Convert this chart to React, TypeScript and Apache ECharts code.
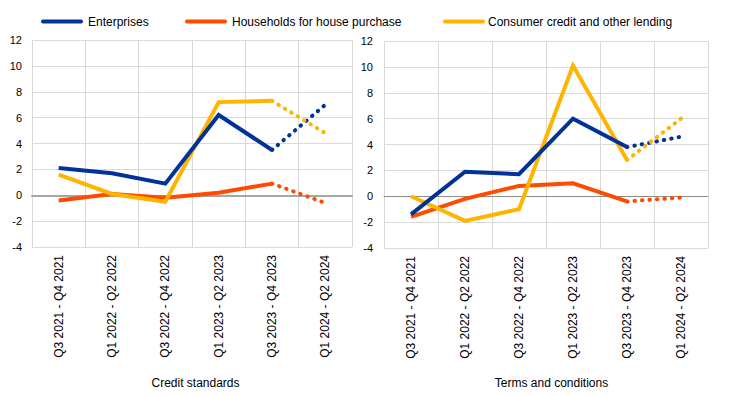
import React, { useEffect, useRef } from "react";
import * as echarts from "echarts";

const categories = [
  "Q3 2021 - Q4 2021",
  "Q1 2022 - Q2 2022",
  "Q3 2022 - Q4 2022",
  "Q1 2023 - Q2 2023",
  "Q3 2023 - Q4 2023",
  "Q1 2024 - Q2 2024",
];

const seriesNames = ["Enterprises", "Households for house purchase", "Consumer credit and other lending"];
const colors = ["#003299", "#FF4B00", "#FFB400"];

// Credit standards (last point = expected Q1 2024 - Q2 2024, drawn dotted)
const csEnterprises = [2.1, 1.7, 0.9, 6.2, 3.5, 7.0];
const csHouseholds = [-0.4, 0.1, -0.2, 0.2, 0.9, -0.6];
const csConsumer = [1.6, 0.1, -0.5, 7.2, 7.3, 4.8];

// Terms and conditions
const tcEnterprises = [-1.4, 1.9, 1.7, 6.0, 3.8, 4.6];
const tcHouseholds = [-1.6, -0.2, 0.8, 1.0, -0.4, -0.1];
const tcConsumer = [0.0, -1.9, -1.0, 10.1, 2.8, 6.0];

const panelTitles = ["Credit standards", "Terms and conditions"];
const yTicks = { min: -4, max: 12, interval: 2 };

const FONT = '"Liberation Sans", Arial, sans-serif';

function solid(vals: number[]) {
  return vals.map((v, i) => (i < vals.length - 1 ? v : null));
}
function dotted(vals: number[]) {
  return vals.map((v, i) => (i >= vals.length - 2 ? v : null));
}

export default function App() {
  const ref = useRef<HTMLDivElement>(null);
  useEffect(() => {
    if (!ref.current) return;
    const chart = echarts.init(ref.current, null, { renderer: "svg" });
    const panels = [
      [csEnterprises, csHouseholds, csConsumer],
      [tcEnterprises, tcHouseholds, tcConsumer],
    ];
    const series: any[] = [];
    panels.forEach((p, pi) => {
      p.forEach((vals, si) => {
        series.push({
          type: "line",
          name: seriesNames[si],
          xAxisIndex: pi,
          yAxisIndex: pi,
          data: solid(vals),
          symbol: "none",
          lineStyle: { color: colors[si], width: 4, cap: "butt", join: "miter" },
          itemStyle: { color: colors[si] },
          z: si === 0 ? 4 : 3,
        });
        series.push({
          type: "line",
          name: seriesNames[si],
          xAxisIndex: pi,
          yAxisIndex: pi,
          data: dotted(vals),
          symbol: "none",
          lineStyle: { color: colors[si], width: 4, type: [0.5, 7], cap: "round" },
          itemStyle: { color: colors[si] },
          z: 3,
        });
      });
    });
    const grids = [
      { left: 32, top: 40, width: 320, height: 207 },
      { left: 384, top: 41, width: 324, height: 207 },
    ];
    const xAxis = grids.map((_, i) => ({
      type: "category",
      gridIndex: i,
      data: categories,
      boundaryGap: true,
      axisLine: {
        show: true,
        onZero: true,
        lineStyle: { color: i === 0 ? "#a6a6a6" : "#8c8c8c", width: i === 0 ? 2 : 1 },
      },
      axisTick: { show: false },
      splitLine: { show: true, interval: 0, lineStyle: { color: "#d9d9d9", width: 1 } },
      axisLabel: {
        interval: 0,
        rotate: 90,
        margin: 8,
        color: "#000",
        fontFamily: FONT,
        fontSize: 12,
      },
    }));
    const yAxis = grids.map((_, i) => ({
      type: "value",
      gridIndex: i,
      min: yTicks.min,
      max: yTicks.max,
      interval: yTicks.interval,
      axisLine: { show: false },
      axisTick: { show: false },
      splitLine: { show: true, lineStyle: { color: "#d9d9d9", width: 1 } },
      axisLabel: {
        margin: i === 0 ? 10 : 11,
        color: "#000",
        fontFamily: FONT,
        fontSize: 11,
      },
    }));

    const legendIconX = [41, 185, 443];
    const legendTextX = [88, 232, 488];
    const graphic: any[] = [];
    seriesNames.forEach((n, i) => {
      graphic.push({
        type: "line",
        shape: { x1: legendIconX[i] + 2, y1: 21.5, x2: legendIconX[i] + 40, y2: 21.5 },
        style: { stroke: colors[i], lineWidth: 4, lineCap: "round" },
      });
      graphic.push({
        type: "text",
        x: legendTextX[i],
        y: 21.5,
        style: { text: n, textAlign: "left", textVerticalAlign: "middle", fill: "#000", font: `12px ${FONT}` },
      });
    });
    const titleX = [195.5, 551.5];
    panelTitles.forEach((t, i) => {
      graphic.push({
        type: "text",
        x: titleX[i],
        y: 383,
        style: { text: t, textAlign: "center", textVerticalAlign: "middle", fill: "#000", font: `12px ${FONT}` },
      });
    });

    chart.setOption({
      animation: false,
      backgroundColor: "#fff",
      grid: grids,
      xAxis,
      yAxis,
      series,
      graphic,
    });
    return () => chart.dispose();
  }, []);
  return <div ref={ref} style={{ width: 739, height: 396, position: "absolute", left: 0, top: 0 }} />;
}
